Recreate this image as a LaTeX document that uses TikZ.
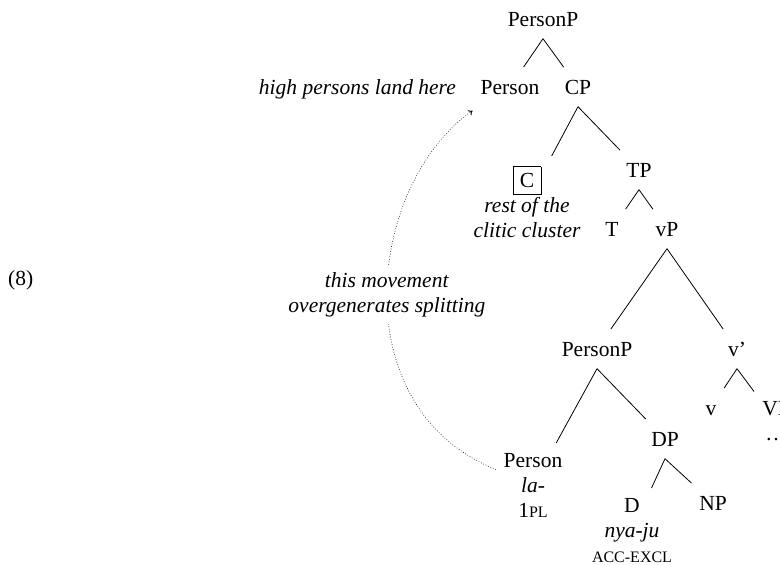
\documentclass[tikz,border=0pt]{standalone}
\usepackage{fontspec}
\setmainfont{Liberation Serif}
\usetikzlibrary{arrows.meta}
\setlength{\fboxsep}{6.5pt}
\setlength{\fboxrule}{0.8pt}
% small capitals for glosses (faked with reduced capitals)
\newcommand{\glosssc}[1]{{\fontsize{16}{25}\selectfont #1}}
\begin{document}
\begin{tikzpicture}[x=1pt,y=-1pt,
  every node/.style={font=\fontsize{21.5}{25}\selectfont, inner xsep=8pt, inner ysep=12.5pt},
  cat/.style={anchor=base, text height=14.2pt, text depth=0pt},
  leaf/.style={anchor=north, align=center, inner ysep=10pt},
  branch/.style={line width=0.8pt},
  move/.style={line width=0.9pt, dash pattern=on 0pt off 2.6pt, line cap=round,
    -{To[length=4pt,width=6pt]}},
]
\useasboundingbox (0,0) rectangle (780,565);

% example number
\node[anchor=base west, inner sep=0pt] (exnum) at (8,285) {(8)};

% tree nodes
\node[cat] (pp1) at (543,26) {PersonP};
\node[cat] (per1) at (510,94) {Person};
\node[cat] (cp) at (578,94) {CP};
\node[anchor=base east, inner sep=0pt] (high) at (456,94) {\textit{high persons land here}};
\node[leaf] (cgrp) at (527,156) {\fbox{C}\\\textit{rest of the}\\\textit{clitic cluster}};
\node[cat] (tp) at (639,177) {TP};
\node[cat] (t) at (612,236) {T};
\node[cat] (vp) at (667,236) {vP};
\node[cat] (pp2) at (597,356) {PersonP};
\node[cat] (vbar) at (737,356) {v’};
\node[cat] (v) at (711,415) {v};
\node[leaf] (vpp) at (776,391) {VP\\\dots};
\node[cat] (dp) at (665,446) {DP};
\node[leaf] (per2) at (533,443) {Person\\\textit{la-}\\1\glosssc{PL}};
\node[leaf] (dgrp) at (632,488) {D\\\textit{nya-ju}\\\glosssc{ACC-EXCL}};
\node[cat] (np) at (713,510) {NP};

% branches
\draw[branch] (pp1.south) -- (per1);
\draw[branch] (pp1.south) -- (cp);
\draw[branch] (cp.south) -- (cgrp);
\draw[branch] (cp.south) -- (tp);
\draw[branch] (tp.south) -- (t);
\draw[branch] (tp.south) -- (vp);
\draw[branch] (vp.south) -- (pp2);
\draw[branch] (vp.south) -- (vbar);
\draw[branch] (pp2.south) -- (per2);
\draw[branch] (pp2.south) -- (dp);
\draw[branch] (vbar.south) -- (v);
\draw[branch] (vbar.south) -- (vpp);
\draw[branch] (dp.south) -- (dgrp);
\draw[branch] (dp.south) -- (np);

% movement arrow
\draw[move] (per2.157) .. controls +(-154,-62) and +(-105,73.5) .. ([yshift=-4pt]per1.south west)
  node[pos=0.5, fill=white, inner sep=7pt, align=center] (mvlabel)
  {\textit{this movement}\\\textit{overgenerates splitting}};
\end{tikzpicture}
\end{document}
